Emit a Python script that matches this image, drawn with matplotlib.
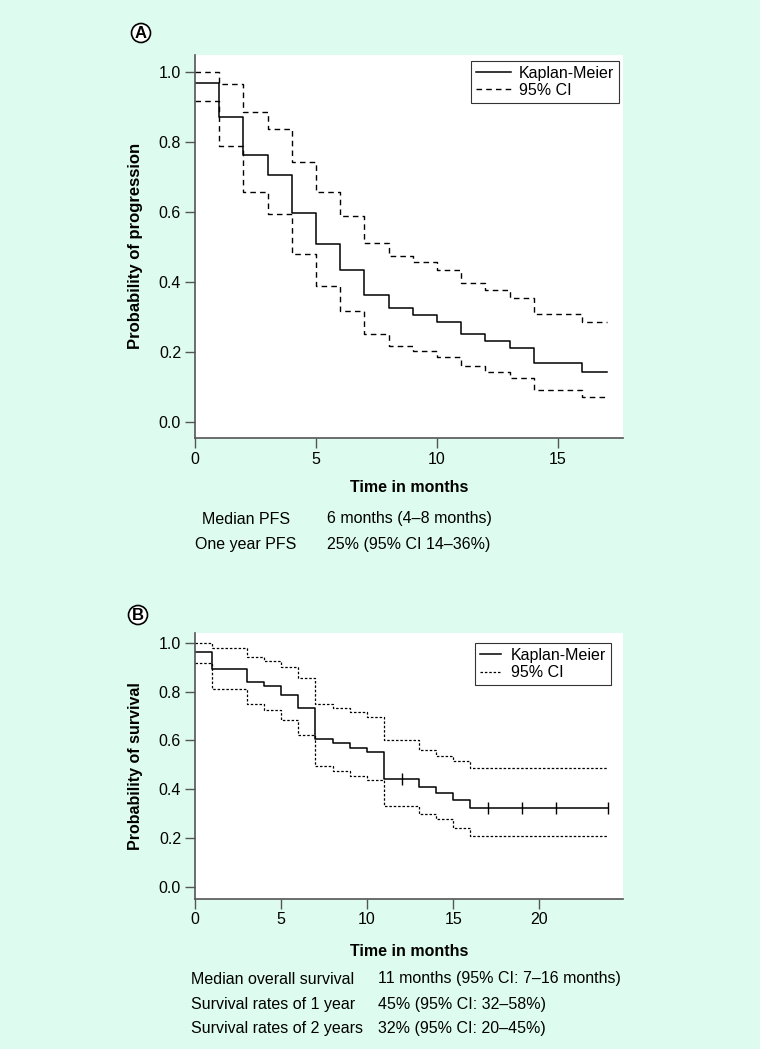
import numpy as np
import matplotlib
matplotlib.use("Agg")
import matplotlib.pyplot as plt
from matplotlib.lines import Line2D

plt.rcParams['font.family'] = ['Liberation Sans', 'DejaVu Sans']

# panel A: progression-free survival
pfs_time = [0, 1, 2, 3, 4, 5, 6, 7, 8, 9, 10, 11, 12, 13, 14, 16, 17]
pfs_km = [0.969, 0.873, 0.763, 0.707, 0.599, 0.508, 0.434, 0.364, 0.325, 0.307,
          0.287, 0.251, 0.233, 0.213, 0.170, 0.145, 0.145]
pfs_upper = [1.0, 0.966, 0.885, 0.839, 0.742, 0.659, 0.588, 0.513, 0.476, 0.457,
             0.436, 0.399, 0.378, 0.356, 0.309, 0.286, 0.286]
pfs_lower = [0.917, 0.789, 0.659, 0.596, 0.481, 0.389, 0.318, 0.252, 0.219, 0.204,
             0.187, 0.162, 0.143, 0.127, 0.092, 0.071, 0.071]

# panel B: overall survival
os_time = [0, 1, 3, 4, 5, 6, 7, 8, 9, 10, 11, 13, 14, 15, 16, 24]
os_km = [0.963, 0.891, 0.837, 0.822, 0.786, 0.732, 0.608, 0.588, 0.570, 0.552,
         0.444, 0.408, 0.384, 0.356, 0.323, 0.323]
os_upper = [1.0, 0.977, 0.943, 0.926, 0.899, 0.857, 0.748, 0.732, 0.715, 0.697,
            0.601, 0.560, 0.538, 0.518, 0.489, 0.489]
os_lower = [0.916, 0.811, 0.748, 0.726, 0.684, 0.623, 0.496, 0.477, 0.455, 0.439,
            0.334, 0.298, 0.278, 0.244, 0.211, 0.211]
os_censored = [12, 17, 19, 21, 24]

pfs_stats = [("Median PFS", "6 months (4\u20138 months)"),
             ("One year PFS", "25% (95% CI 14\u201336%)")]
os_stats = [("Median overall survival", "11 months (95% CI: 7\u201316 months)"),
            ("Survival rates of 1 year", "45% (95% CI: 32\u201358%)"),
            ("Survival rates of 2 years", "32% (95% CI: 20\u201345%)")]

BG = '#ddfcef'
W, H = 760, 1049
SPINE = '#555555'
FS = 11.5


def fx(x):
    return x / W


def fy(y):
    return 1 - y / H


def style_axes(ax):
    for s in ['top', 'right']:
        ax.spines[s].set_visible(False)
    for s in ['left', 'bottom']:
        ax.spines[s].set_color(SPINE)
        ax.spines[s].set_linewidth(1.2)
    ax.tick_params(direction='out', length=7, width=1, color=SPINE,
                   labelsize=FS, pad=3)
    ax.set_yticks([0, 0.2, 0.4, 0.6, 0.8, 1.0])
    ax.set_yticklabels(['0.0', '0.2', '0.4', '0.6', '0.8', '1.0'])


fig = plt.figure(figsize=(7.6, 10.49), dpi=100, facecolor=BG)

# ---- panel A
axA = fig.add_axes([fx(195), fy(437.7), fx(623) - fx(195), fy(55) - fy(437.7)])
axA.set_facecolor('white')
axA.step(pfs_time, pfs_km, where='post', color='black', lw=1.1, label='Kaplan-Meier')
axA.step(pfs_time, pfs_upper, where='post', color='black', lw=1.0,
         dashes=(4, 3), label='95% CI')
axA.step(pfs_time, pfs_lower, where='post', color='black', lw=1.0, dashes=(4, 3))
axA.set_xlim(0, 17.68)
axA.set_ylim(-0.044, 1.049)
axA.set_xticks([0, 5, 10, 15])
style_axes(axA)
axA.set_ylabel('Probability of progression', fontsize=12, fontweight='bold')
axA.yaxis.set_label_coords(-0.1215, 0.5)
axA.set_xlabel('Time in months', fontsize=FS, fontweight='bold')
axA.xaxis.set_label_coords(0.5, -0.11)
legA = axA.legend(loc='upper right', bbox_to_anchor=(0.99, 0.985), fontsize=FS,
                  frameon=True, fancybox=False, handlelength=2.2,
                  borderpad=0.3, labelspacing=0.15, handletextpad=0.5,
                  borderaxespad=0)
legA.get_frame().set_edgecolor('black')
legA.get_frame().set_linewidth(0.8)

# ---- panel B
axB = fig.add_axes([fx(195), fy(898.6), fx(623.5) - fx(195), fy(633.3) - fy(898.6)])
axB.set_facecolor('white')
axB.step(os_time, os_km, where='post', color='black', lw=1.1)
axB.step(os_time, os_upper, where='post', color='black', lw=0.9, dashes=(2, 1.5))
axB.step(os_time, os_lower, where='post', color='black', lw=0.9, dashes=(2, 1.5))
cens_idx = np.searchsorted(os_time, os_censored, side='right') - 1
axB.plot(os_censored, np.array(os_km)[cens_idx], ls='none', marker='|',
         ms=8, mew=1.0, color='black')
axB.set_xlim(0, 24.9)
axB.set_ylim(-0.046, 1.038)
axB.set_xticks([0, 5, 10, 15, 20])
style_axes(axB)
axB.set_ylabel('Probability of survival', fontsize=11.5, fontweight='bold')
axB.yaxis.set_label_coords(-0.1215, 0.5)
axB.set_xlabel('Time in months', fontsize=FS, fontweight='bold')
axB.xaxis.set_label_coords(0.5, -0.17)
handlesB = [Line2D([], [], color='black', lw=1.1),
            Line2D([], [], color='black', lw=0.9, dashes=(2, 1.5))]
legB = axB.legend(handlesB, ['Kaplan-Meier', '95% CI'], loc='upper right',
                  bbox_to_anchor=(0.97, 0.963), fontsize=FS, frameon=True,
                  fancybox=False, handlelength=1.3, borderpad=0.3,
                  labelspacing=0.15, handletextpad=0.6, borderaxespad=0)
legB.get_frame().set_edgecolor('black')
legB.get_frame().set_linewidth(0.8)

# ---- panel letters
for letter, (x, y) in [('A', (141, 33)), ('B', (138, 615))]:
    fig.text(fx(x), fy(y), letter, ha='center', va='center', fontsize=12,
             fontweight='bold',
             bbox=dict(boxstyle='circle,pad=0.12', fc='white', ec='black', lw=1.2))

# ---- summary text
for i, (lab, val) in enumerate(pfs_stats):
    y = 519 + i * 26
    fig.text(fx(246), fy(y), lab, ha='center', va='center', fontsize=FS)
    fig.text(fx(327), fy(y), val, ha='left', va='center', fontsize=FS)

for i, (lab, val) in enumerate(os_stats):
    y = 979 + i * 25
    fig.text(fx(191), fy(y), lab, ha='left', va='center', fontsize=FS)
    fig.text(fx(378), fy(y), val, ha='left', va='center', fontsize=FS)

fig.savefig('out.png', dpi=100, facecolor=BG)
